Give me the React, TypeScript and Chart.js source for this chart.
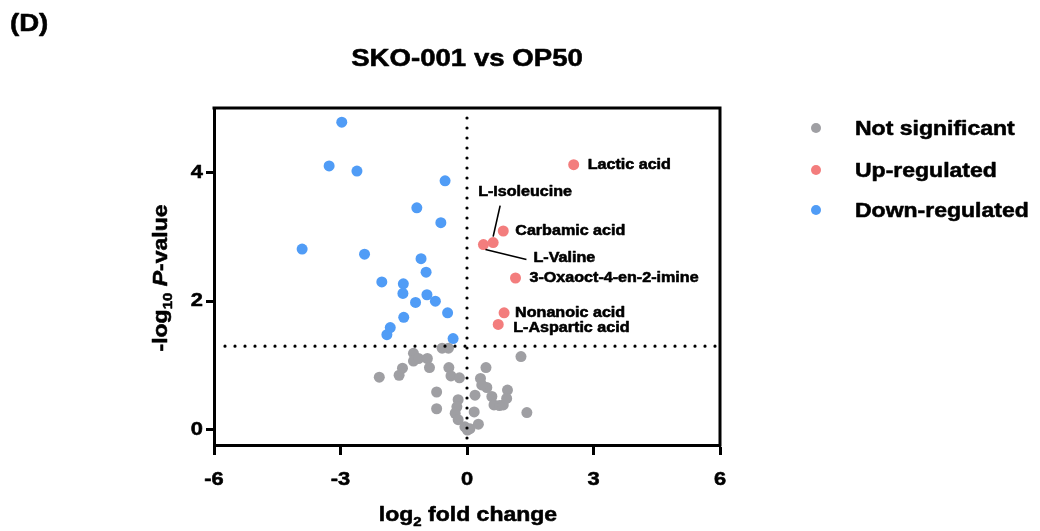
import React, { useEffect, useRef } from "react";
import { Chart, registerables } from "chart.js";

Chart.register(...registerables);

// ---------- data ----------
const panelLabel = "(D)";
const titleText = "SKO-001 vs OP50";
const xTicks = [-6, -3, 0, 3, 6];
const yTicks = [0, 2, 4];
const seriesNames = ["Not significant", "Up-regulated", "Down-regulated"];
const pThreshold = 1.301; // -log10(0.05)
const fcCenter = 0;

const notSigX = [
  -2.08, -1.61, -1.53, -1.27, -1.27, -1.15, -0.94, -0.89, -0.59, -0.44, -0.43, -0.38, -0.18,
  -0.72, -0.72, -0.21, -0.24, -0.28, -0.21, -0.05, 0.01, 0.07, 0.17, 0.27, 0.19, 0.32, 0.45,
  0.47, 0.59, 0.64, 0.77, 0.86, 0.96, 0.94, 1.28, 1.42, 0.35,
];
const notSigY = [
  0.82, 0.85, 0.96, 1.19, 1.07, 1.11, 1.11, 0.97, 1.27, 1.27, 0.97, 0.84, 0.81,
  0.59, 0.33, 0.47, 0.36, 0.26, 0.16, 0.05, 0.0, 0.02, 0.28, 0.09, 0.54, 0.8, 0.97,
  0.66, 0.52, 0.39, 0.38, 0.39, 0.62, 0.49, 1.14, 0.27, 0.7,
];

const upNames = [
  "Lactic acid",
  "Carbamic acid",
  "L-Isoleucine",
  "L-Valine",
  "3-Oxaoct-4-en-2-imine",
  "Nonanoic acid",
  "L-Aspartic acid",
];
const upX = [2.53, 0.86, 0.62, 0.39, 1.15, 0.88, 0.74];
const upY = [4.12, 3.09, 2.91, 2.88, 2.36, 1.82, 1.64];

const downX = [
  -2.97, -3.27, -2.61, -0.52, -1.19, -0.62, -3.91, -2.43, -1.09, -0.97, -2.02,
  -1.51, -1.52, -0.95, -1.22, -0.75, -0.46, -1.5, -1.82, -1.9, -0.33,
];
const downY = [
  4.78, 4.1, 4.02, 3.87, 3.45, 3.22, 2.81, 2.73, 2.66, 2.45, 2.3,
  2.27, 2.12, 2.1, 1.98, 2.0, 1.82, 1.75, 1.59, 1.48, 1.42,
];

// ---------- styling ----------
const GREY = "rgb(159,159,163)";
const RED = "rgb(243,125,125)";
const BLUE = "rgb(80,156,246)";
const FONT = '"Liberation Sans", Arial, Helvetica, sans-serif';
const STRETCH = 1.15;
const EMBOLDEN = 0.55;

// label offsets (px) relative to each up-regulated point, plus optional leader line
const labelStyle: { dx: number; dy: number; line?: [number, number, number, number] }[] = [
  { dx: 14, dy: 0 },
  { dx: 12, dy: 0 },
  { dx: -15, dy: -50, line: [0, -6, 7, -37] },
  { dx: 50, dy: 14, line: [2, 5, 43, 15] },
  { dx: 14, dy: 0 },
  { dx: 11, dy: 0 },
  { dx: 15, dy: 4 },
];

type Part = { t: string; s: number; dy?: number; italic?: boolean };

function setFont(ctx: CanvasRenderingContext2D, size: number, italic = false) {
  ctx.font = `${italic ? "italic " : ""}bold ${size}px ${FONT}`;
}

function fillBold(ctx: CanvasRenderingContext2D, text: string) {
  ctx.fillText(text, 0, 0);
  ctx.lineWidth = EMBOLDEN;
  ctx.strokeStyle = "#000";
  ctx.lineJoin = "round";
  ctx.strokeText(text, 0, 0);
}

function drawText(
  ctx: CanvasRenderingContext2D,
  text: string,
  x: number,
  y: number,
  size: number,
  align: CanvasTextAlign = "left",
  baseline: CanvasTextBaseline = "middle"
) {
  ctx.save();
  setFont(ctx, size);
  ctx.fillStyle = "#000";
  ctx.textAlign = align;
  ctx.textBaseline = baseline;
  ctx.translate(x, y);
  ctx.scale(STRETCH, 1);
  fillBold(ctx, text);
  ctx.restore();
}

// centered rich text at origin (already translated/rotated); baseline at y=0
function drawRich(ctx: CanvasRenderingContext2D, parts: Part[]) {
  let total = 0;
  const widths = parts.map((p) => {
    setFont(ctx, p.s, p.italic);
    const w = ctx.measureText(p.t).width * STRETCH;
    total += w;
    return w;
  });
  let x = -total / 2;
  ctx.fillStyle = "#000";
  ctx.textAlign = "left";
  ctx.textBaseline = "alphabetic";
  parts.forEach((p, i) => {
    ctx.save();
    setFont(ctx, p.s, p.italic);
    ctx.translate(x, p.dy || 0);
    ctx.scale(STRETCH, 1);
    fillBold(ctx, p.t);
    ctx.restore();
    x += widths[i];
  });
}

const xTitle: Part[] = [
  { t: "log", s: 20 },
  { t: "2", s: 13, dy: 5 },
  { t: " fold change", s: 20 },
];
const yTitle: Part[] = [
  { t: "-log", s: 20 },
  { t: "10", s: 13, dy: 5 },
  { t: " ", s: 20 },
  { t: "P", s: 20, italic: true },
  { t: "-value", s: 20 },
];

const overlay = {
  id: "overlay",
  afterDatasetsDraw(chart: any) {
    const ctx: CanvasRenderingContext2D = chart.ctx;
    const { left, right, top, bottom } = chart.chartArea;
    const xs = chart.scales.x;
    const ys = chart.scales.y;

    // dotted threshold lines
    ctx.save();
    ctx.strokeStyle = "#000";
    ctx.lineWidth = 3.2;
    ctx.lineCap = "round";
    ctx.setLineDash([0, 10]);
    const vx = xs.getPixelForValue(fcCenter);
    ctx.beginPath();
    ctx.moveTo(vx, top + 10);
    ctx.lineTo(vx, bottom);
    ctx.stroke();
    const hy = ys.getPixelForValue(pThreshold);
    ctx.beginPath();
    ctx.moveTo(left + 11, hy);
    ctx.lineTo(right - 4, hy);
    ctx.stroke();
    ctx.restore();

    // frame top & right
    ctx.save();
    ctx.strokeStyle = "#000";
    ctx.lineWidth = 3;
    ctx.lineCap = "square";
    ctx.beginPath();
    ctx.moveTo(left, top);
    ctx.lineTo(right, top);
    ctx.lineTo(right, bottom);
    ctx.stroke();
    ctx.restore();

    // labels for up-regulated points
    upNames.forEach((name, i) => {
      const px = xs.getPixelForValue(upX[i]);
      const py = ys.getPixelForValue(upY[i]);
      const st = labelStyle[i];
      if (st.line) {
        ctx.save();
        ctx.strokeStyle = "#000";
        ctx.lineWidth = 1.6;
        ctx.beginPath();
        ctx.moveTo(px + st.line[0], py + st.line[1]);
        ctx.lineTo(px + st.line[2], py + st.line[3]);
        ctx.stroke();
        ctx.restore();
      }
      drawText(ctx, name, px + st.dx, py + st.dy, 14, "left", "middle");
    });

    // tick labels
    xTicks.forEach((v) => {
      drawText(ctx, String(v), xs.getPixelForValue(v), 485, 19, "center", "alphabetic");
    });
    yTicks.forEach((v) => {
      drawText(ctx, String(v), 203, ys.getPixelForValue(v), 19, "right", "middle");
    });

    // axis titles
    ctx.save();
    ctx.translate((left + right) / 2 + 1, 521);
    drawRich(ctx, xTitle);
    ctx.restore();

    ctx.save();
    ctx.translate(167, 278);
    ctx.rotate(-Math.PI / 2);
    drawRich(ctx, yTitle);
    ctx.restore();

    // title & panel label
    drawText(ctx, titleText, (left + right) / 2, 66, 24, "center", "alphabetic");
    drawText(ctx, panelLabel, 10, 31, 24, "left", "alphabetic");

    // legend
    const colors = [GREY, RED, BLUE];
    const legendY = [128, 170, 210];
    seriesNames.forEach((name, i) => {
      ctx.save();
      ctx.fillStyle = colors[i];
      ctx.beginPath();
      ctx.arc(816, legendY[i], 5, 0, Math.PI * 2);
      ctx.fill();
      ctx.restore();
      drawText(ctx, name, 855, legendY[i] + 1.5, 20, "left", "middle");
    });
  },
};

export default function App() {
  const ref = useRef<HTMLCanvasElement | null>(null);

  useEffect(() => {
    if (!ref.current) return;
    const pts = (xs: number[], ys: number[]) => xs.map((x, i) => ({ x, y: ys[i] }));
    const common = { pointRadius: 5.5, pointHoverRadius: 5.5, borderWidth: 0, showLine: false };
    const chart = new Chart(ref.current, {
      type: "scatter",
      data: {
        datasets: [
          { label: seriesNames[0], data: pts(notSigX, notSigY), backgroundColor: GREY, borderColor: GREY, ...common },
          { label: seriesNames[1], data: pts(upX, upY), backgroundColor: RED, borderColor: RED, ...common },
          { label: seriesNames[2], data: pts(downX, downY), backgroundColor: BLUE, borderColor: BLUE, ...common },
        ],
      },
      options: {
        animation: false,
        responsive: false,
        events: [],
        layout: { padding: { top: 108, right: 320, bottom: 0, left: 0 } },
        plugins: {
          legend: { display: false },
          title: { display: false },
          tooltip: { enabled: false },
        },
        scales: {
          x: {
            type: "linear",
            position: "bottom",
            min: -6,
            max: 6,
            afterBuildTicks: (s: any) => {
              s.ticks = xTicks.map((v) => ({ value: v }));
            },
            afterFit: (s: any) => {
              s.height = 86;
            },
            ticks: { display: false },
            grid: {
              display: true,
              drawOnChartArea: false,
              drawTicks: true,
              tickLength: 10,
              tickWidth: 3,
              tickColor: "#000",
            },
            border: { display: true, width: 3, color: "#000" },
          },
          y: {
            type: "linear",
            position: "left",
            min: -0.233,
            max: 5,
            afterBuildTicks: (s: any) => {
              s.ticks = yTicks.map((v) => ({ value: v }));
            },
            afterFit: (s: any) => {
              s.width = 214;
            },
            ticks: { display: false },
            grid: {
              display: true,
              drawOnChartArea: false,
              drawTicks: true,
              tickLength: 8,
              tickWidth: 3,
              tickColor: "#000",
            },
            border: { display: true, width: 3, color: "#000" },
          },
        },
      } as any,
      plugins: [overlay],
    });
    return () => chart.destroy();
  }, []);

  return (
    <div style={{ position: "absolute", left: 0, top: 0, width: 1040, height: 531, background: "#fff" }}>
      <canvas ref={ref} width={1040} height={531} style={{ display: "block", width: 1040, height: 531 }} />
    </div>
  );
}
